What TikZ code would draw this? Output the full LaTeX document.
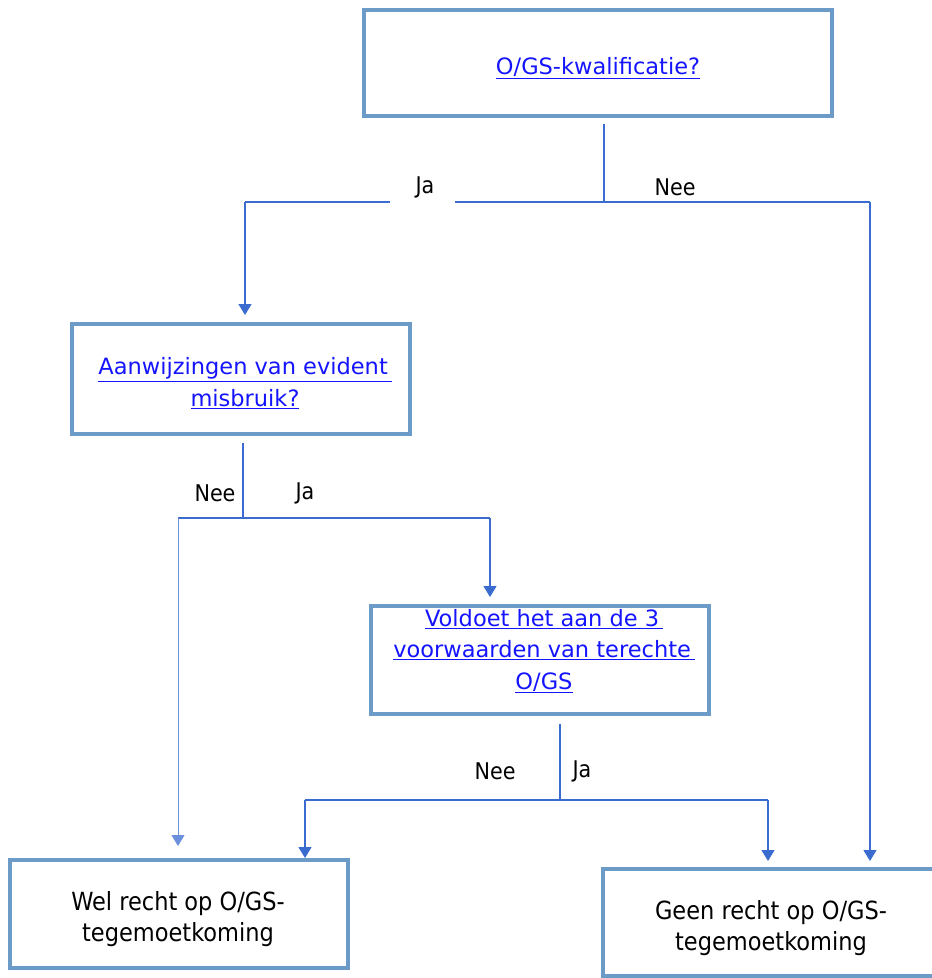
\documentclass[tikz,border=0pt]{standalone}
\usepackage{fontspec}
\setmainfont{DejaVu Sans}
\newfontfamily\condfont{DejaVu Sans Condensed}
\usetikzlibrary{arrows.meta}
\definecolor{boxc}{RGB}{108,155,200}
\definecolor{linec}{RGB}{58,108,208}
\definecolor{linkc}{RGB}{20,20,255}
\tikzset{
  qbox/.style={draw=boxc, line width=4pt, minimum width=#1, inner sep=0pt},
  conn/.style={draw=linec, line width=1.4pt},
  arr/.style={conn, ->},
  lbl/.style={font=\condfont\fontsize{23}{26}\selectfont, text=black, inner sep=0pt},
  qtxt/.style={font=\fontsize{22.5}{31.5}\selectfont, text=linkc, align=center, inner sep=0pt},
  atxt/.style={font=\condfont\fontsize{25}{31.5}\selectfont, text=black, align=center, inner sep=0pt},
}
\begin{document}
\begin{tikzpicture}[x=1pt,y=-1pt, >={Triangle[width=13pt,length=11pt]}]
\useasboundingbox (0,0) rectangle (932,978);
% boxes
\node[qbox=468pt, minimum height=106pt] (q1) at (598,63) {};
\node[qbox=338pt, minimum height=110pt] (q2) at (241,379) {};
\node[qbox=338pt, minimum height=108pt] (q3) at (540,660) {};
\node[qbox=338pt, minimum height=108pt] (a1) at (179,914) {};
\node[qbox=341pt, minimum height=107pt] (a2) at (773.5,922.5) {};
% texts
\node[qtxt] (t1) at (598,68) {\underline{O/GS-kwalificatie?}};
\node[qtxt] (t2) at (245,383) {\underline{Aanwijzingen van evident\,}\\\underline{misbruik?}};
\node[qtxt] (t3) at (544,651) {\underline{Voldoet het aan de 3\,}\\\underline{voorwaarden van terechte\,}\\\underline{O/GS}};
\node[atxt] (t4) at (178,919) {Wel recht op O/GS-\\tegemoetkoming};
\node[atxt] (t5) at (771,928) {Geen recht op O/GS-\\tegemoetkoming};
% labels
\node[lbl] (l1) at (425,187) {Ja};
\node[lbl] (l2) at (675,187) {Nee};
\node[lbl] (l3) at (215,493) {Nee};
\node[lbl] (l4) at (305,493) {Ja};
\node[lbl] (l5) at (495,771) {Nee};
\node[lbl] (l6) at (582,771) {Ja};
% connector coordinates
\coordinate (j1) at (604,202);
\coordinate (j1l) at (245,202);
\coordinate (j1r) at (870,202);
\coordinate (j2) at (243,518);
\coordinate (j2l) at (178,518);
\coordinate (j2r) at (490,518);
\coordinate (j3) at (560,800);
\coordinate (j3l) at (305,800);
\coordinate (j3r) at (768,800);
% first split
\draw[conn] ([yshift=-6pt]q1.south -| j1) -- (j1);
\draw[conn] (j1l) -- (390,202);
\draw[conn] (455,202) -- (j1r);
\draw[arr] (j1l) -- ([yshift=7pt]q2.north -| j1l);
\draw[arr] (j1r) -- ([yshift=6pt]a2.north -| j1r);
% second split
\draw[conn] ([yshift=-7pt]q2.south -| j2) -- (j2);
\draw[conn] (j2l) -- (j2r);
\draw[arr, line width=0.8pt, draw=linec!75] (j2l) -- ([yshift=12pt]a1.north -| j2l);
\draw[arr] (j2r) -- ([yshift=7pt]q3.north -| j2r);
% third split
\draw[conn] ([yshift=-8pt]q3.south -| j3) -- (j3);
\draw[conn] (j3l) -- (j3r);
\draw[arr] (j3l) -- (a1.north -| j3l);
\draw[arr] (j3r) -- ([yshift=6pt]a2.north -| j3r);
\end{tikzpicture}
\end{document}
